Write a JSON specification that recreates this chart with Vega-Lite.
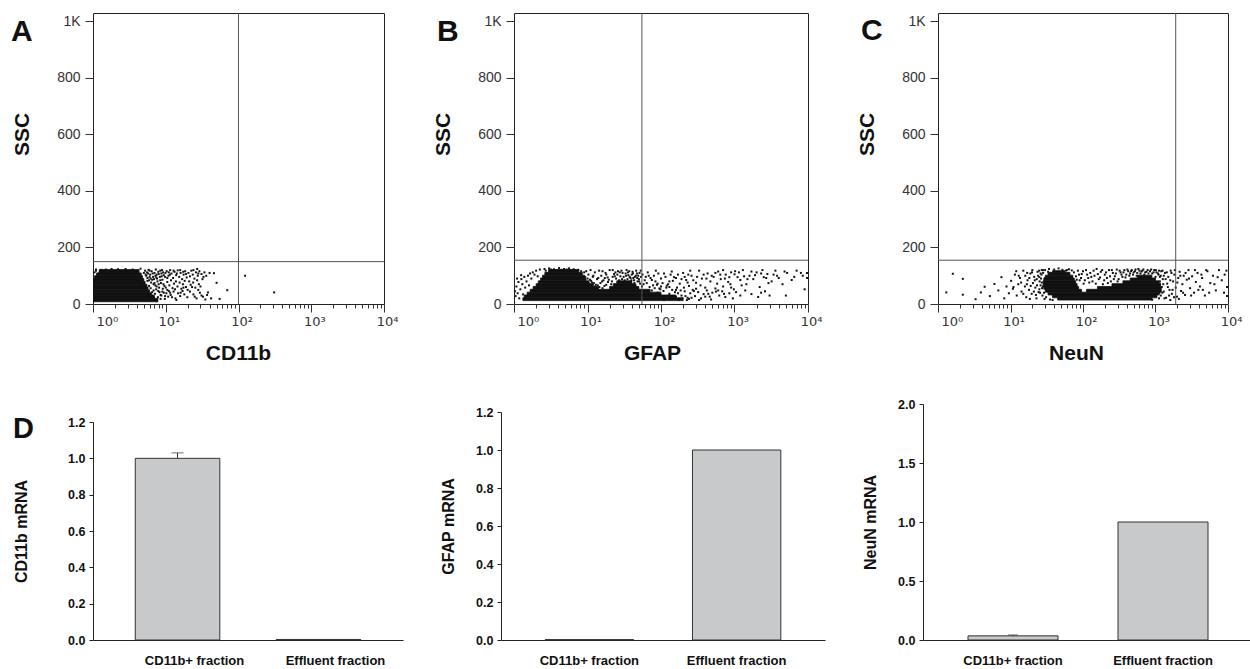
{
"$schema": "https://vega.github.io/schema/vega-lite/v6.json",
"padding": {"left": 10, "top": 12, "right": 0, "bottom": 0},
"config": {"font": "Liberation Sans", "axis": {"labelFont": "Liberation Sans", "titleFont": "Liberation Sans"}, "title": {"font": "Liberation Sans"}},
"datasets": {
"cd11b_dense": [{"x1":1,"x2":7.8,"y1":8,"y2":20},{"x1":1,"x2":7.0,"y1":20,"y2":30},{"x1":1,"x2":6.4,"y1":30,"y2":40},{"x1":1,"x2":6.0,"y1":40,"y2":50},{"x1":1,"x2":5.7,"y1":50,"y2":60},{"x1":1,"x2":5.5,"y1":60,"y2":70},{"x1":1,"x2":5.2,"y1":70,"y2":80},{"x1":1,"x2":5.0,"y1":80,"y2":90},{"x1":1.05,"x2":4.8,"y1":90,"y2":100},{"x1":1.12,"x2":4.6,"y1":100,"y2":110},{"x1":1.22,"x2":4.3,"y1":110,"y2":122}],
"cd11b_dots": [{"x":1.05,"y":112},{"x":1.1,"y":118},{"x":1.2,"y":108},{"x":1.15,"y":98},{"x":1.3,"y":121},{"x":1.4,"y":114},{"x":5.2,"y":118},{"x":5.5,"y":112},{"x":5.8,"y":121},{"x":6.1,"y":104},{"x":6.4,"y":116},{"x":6.7,"y":96},{"x":7.0,"y":110},{"x":7.3,"y":122},{"x":7.6,"y":90},{"x":8.0,"y":106},{"x":8.4,"y":118},{"x":8.8,"y":98},{"x":9.2,"y":112},{"x":5.9,"y":84},{"x":6.3,"y":76},{"x":6.9,"y":88},{"x":7.2,"y":66},{"x":7.7,"y":80},{"x":8.1,"y":58},{"x":8.6,"y":74},{"x":9.0,"y":86},{"x":9.6,"y":64},{"x":6.8,"y":48},{"x":7.1,"y":36},{"x":7.4,"y":52},{"x":7.8,"y":24},{"x":8.2,"y":42},{"x":8.7,"y":30},{"x":9.1,"y":54},{"x":9.7,"y":18},{"x":10.2,"y":38},{"x":10.8,"y":26},{"x":10.3,"y":116},{"x":10.9,"y":100},{"x":11.5,"y":120},{"x":12.0,"y":108},{"x":12.6,"y":92},{"x":13.2,"y":114},{"x":13.9,"y":102},{"x":14.6,"y":119},{"x":15.3,"y":96},{"x":16.0,"y":110},{"x":16.8,"y":88},{"x":17.6,"y":104},{"x":18.5,"y":116},{"x":19.4,"y":94},{"x":10.5,"y":78},{"x":11.2,"y":66},{"x":11.8,"y":84},{"x":12.4,"y":56},{"x":13.0,"y":72},{"x":13.8,"y":80},{"x":14.5,"y":62},{"x":15.5,"y":76},{"x":16.4,"y":54},{"x":17.2,"y":70},{"x":18.2,"y":82},{"x":19.0,"y":60},{"x":11.0,"y":46},{"x":11.7,"y":32},{"x":12.8,"y":44},{"x":13.6,"y":20},{"x":14.8,"y":38},{"x":15.8,"y":28},{"x":17.0,"y":46},{"x":18.0,"y":34},{"x":19.8,"y":24},{"x":20.5,"y":110},{"x":21.5,"y":98},{"x":22.5,"y":118},{"x":23.5,"y":104},{"x":24.8,"y":90},{"x":26,"y":112},{"x":27.5,"y":100},{"x":29,"y":116},{"x":31,"y":106},{"x":33,"y":96},{"x":21,"y":80},{"x":22,"y":68},{"x":23.8,"y":76},{"x":25.5,"y":58},{"x":27,"y":84},{"x":28.5,"y":70},{"x":30,"y":62},{"x":32,"y":88},{"x":21.5,"y":44},{"x":24,"y":34},{"x":26.5,"y":20},{"x":29.5,"y":40},{"x":32.5,"y":26},{"x":35,"y":16},{"x":37,"y":32},{"x":38,"y":41},{"x":46,"y":109},{"x":50,"y":75},{"x":70,"y":49},{"x":123,"y":100},{"x":309,"y":41},{"x":42,"y":20},{"x":55,"y":18},{"x":5.4,"y":100},{"x":5.6,"y":92},{"x":5.9,"y":64},{"x":6.2,"y":56},{"x":6.5,"y":42},{"x":6.6,"y":30},{"x":6.9,"y":20},{"x":7.3,"y":14},{"x":5.7,"y":108},{"x":6.0,"y":118},{"x":6.6,"y":108},{"x":7.5,"y":104},{"x":8.3,"y":96},{"x":7.9,"y":114},{"x":8.9,"y":120},{"x":9.4,"y":102},{"x":9.9,"y":110},{"x":7.0,"y":74},{"x":7.5,"y":62},{"x":8.0,"y":70},{"x":8.4,"y":84},{"x":9.3,"y":70},{"x":6.0,"y":96},{"x":6.5,"y":86},{"x":7.9,"y":46},{"x":8.5,"y":18},{"x":9.4,"y":40},{"x":10.0,"y":58},{"x":10.5,"y":92},{"x":11.0,"y":112},{"x":1.1,"y":122},{"x":1.25,"y":116},{"x":1.5,"y":122},{"x":1.8,"y":124},{"x":2.2,"y":123},{"x":2.8,"y":124},{"x":3.5,"y":122},{"x":4.5,"y":125},{"x":5.0,"y":110},{"x":5.3,"y":104},{"x":4.9,"y":60},{"x":5.3,"y":40},{"x":5.8,"y":30},{"x":6.2,"y":24},{"x":6.0,"y":12},{"x":7.5,"y":10},{"x":8.5,"y":32},{"x":9.0,"y":44},{"x":9.8,"y":28},{"x":10.5,"y":50},{"x":11.5,"y":40},{"x":12.2,"y":24},{"x":13.4,"y":52},{"x":14,"y":14},{"x":16,"y":40},{"x":17.5,"y":58},{"x":20,"y":50},{"x":23,"y":60},{"x":25,"y":26},{"x":28,"y":50},{"x":31,"y":30},{"x":5.6,"y":82},{"x":6.2,"y":90},{"x":6.8,"y":70},{"x":7.4,"y":94},{"x":7.2,"y":100},{"x":8.7,"y":108},{"x":9.8,"y":96},{"x":11.4,"y":104},{"x":12.8,"y":118},{"x":14.2,"y":108},{"x":15.8,"y":120},{"x":17.4,"y":114},{"x":19,"y":106},{"x":24,"y":120},{"x":28,"y":108},{"x":34,"y":112},{"x":36,"y":100},{"x":40,"y":110},{"x":27,"y":124}],
"cd11b_gate": [{"gate_x":100,"gate_y":150}],
"gfap_dense": [{"x1":1.32,"x2":200,"y1":12,"y2":22},{"x1":1.38,"x2":158,"y1":22,"y2":32},{"x1":1.51,"x2":100,"y1":32,"y2":42},{"x1":1.66,"x2":71,"y1":42,"y2":52},{"x1":1.82,"x2":14.1,"y1":52,"y2":62},{"x1":20,"x2":50,"y1":52,"y2":62},{"x1":2.0,"x2":12,"y1":62,"y2":72},{"x1":22.4,"x2":44.7,"y1":62,"y2":72},{"x1":2.14,"x2":10.5,"y1":72,"y2":82},{"x1":25,"x2":40,"y1":72,"y2":82},{"x1":2.3,"x2":9.5,"y1":82,"y2":92},{"x1":2.45,"x2":9.1,"y1":92,"y2":102},{"x1":2.63,"x2":8.5,"y1":102,"y2":112},{"x1":2.95,"x2":7.6,"y1":112,"y2":122}],
"gfap_dots": [{"x":1.03,"y":45},{"x":1.05,"y":28},{"x":1.08,"y":62},{"x":1.12,"y":38},{"x":1.15,"y":78},{"x":1.18,"y":20},{"x":1.22,"y":52},{"x":1.26,"y":88},{"x":1.3,"y":70},{"x":1.33,"y":34},{"x":1.38,"y":96},{"x":1.42,"y":58},{"x":1.48,"y":80},{"x":1.55,"y":100},{"x":1.6,"y":66},{"x":1.65,"y":108},{"x":1.72,"y":90},{"x":1.8,"y":112},{"x":1.9,"y":104},{"x":2.0,"y":118},{"x":2.1,"y":98},{"x":2.25,"y":122},{"x":1.25,"y":102},{"x":1.1,"y":90},{"x":2.6,"y":124},{"x":3.0,"y":126},{"x":3.5,"y":123},{"x":4.1,"y":127},{"x":4.8,"y":124},{"x":5.6,"y":126},{"x":6.5,"y":123},{"x":7.5,"y":121},{"x":9.6,"y":116},{"x":10.3,"y":104},{"x":11,"y":120},{"x":11.8,"y":96},{"x":12.6,"y":112},{"x":13.5,"y":88},{"x":14.4,"y":118},{"x":15.4,"y":100},{"x":16.5,"y":84},{"x":17.6,"y":110},{"x":18.8,"y":94},{"x":20,"y":120},{"x":21.5,"y":80},{"x":23,"y":106},{"x":24.5,"y":90},{"x":26,"y":116},{"x":28,"y":98},{"x":30,"y":110},{"x":32,"y":84},{"x":34,"y":120},{"x":36,"y":102},{"x":38.5,"y":92},{"x":41,"y":114},{"x":44,"y":96},{"x":47,"y":108},{"x":50,"y":88},{"x":53,"y":118},{"x":11.5,"y":76},{"x":13,"y":68},{"x":15,"y":74},{"x":17,"y":64},{"x":19,"y":78},{"x":45,"y":66},{"x":48,"y":80},{"x":52,"y":72},{"x":55,"y":62},{"x":10.8,"y":86},{"x":12,"y":100},{"x":14,"y":92},{"x":16,"y":116},{"x":18,"y":104},{"x":22,"y":96},{"x":24,"y":112},{"x":27,"y":84},{"x":29,"y":118},{"x":31,"y":96},{"x":33,"y":108},{"x":35,"y":88},{"x":37,"y":116},{"x":40,"y":104},{"x":43,"y":84},{"x":46,"y":118},{"x":49,"y":100},{"x":16,"y":56},{"x":18,"y":68},{"x":14.5,"y":60},{"x":12.5,"y":62},{"x":22,"y":120},{"x":42,"y":92},{"x":39,"y":78},{"x":51,"y":110},{"x":58,"y":70},{"x":62,"y":96},{"x":66,"y":112},{"x":70,"y":60},{"x":75,"y":85},{"x":80,"y":100},{"x":85,"y":118},{"x":90,"y":72},{"x":95,"y":55},{"x":100,"y":90},{"x":110,"y":108},{"x":120,"y":65},{"x":130,"y":80},{"x":140,"y":115},{"x":150,"y":95},{"x":165,"y":58},{"x":180,"y":72},{"x":200,"y":110},{"x":220,"y":85},{"x":240,"y":64},{"x":260,"y":100},{"x":280,"y":46},{"x":300,"y":75},{"x":330,"y":118},{"x":360,"y":90},{"x":400,"y":58},{"x":430,"y":108},{"x":470,"y":80},{"x":520,"y":96},{"x":560,"y":44},{"x":600,"y":115},{"x":650,"y":88},{"x":700,"y":62},{"x":760,"y":104},{"x":820,"y":78},{"x":900,"y":112},{"x":980,"y":52},{"x":1100,"y":95},{"x":1200,"y":85},{"x":1300,"y":120},{"x":1450,"y":70},{"x":1600,"y":100},{"x":1800,"y":88},{"x":2000,"y":112},{"x":2200,"y":60},{"x":2500,"y":95},{"x":2800,"y":106},{"x":3200,"y":80},{"x":3600,"y":118},{"x":4000,"y":92},{"x":4500,"y":70},{"x":5200,"y":110},{"x":6000,"y":85},{"x":7000,"y":118},{"x":8500,"y":100},{"x":9700,"y":92},{"x":9700,"y":110},{"x":1000,"y":105},{"x":1150,"y":112},{"x":1350,"y":98},{"x":1700,"y":115},{"x":1900,"y":102},{"x":2300,"y":108},{"x":2700,"y":92},{"x":3400,"y":104},{"x":1250,"y":66},{"x":850,"y":95},{"x":550,"y":110},{"x":700,"y":120},{"x":380,"y":104},{"x":250,"y":118},{"x":190,"y":30},{"x":210,"y":45},{"x":230,"y":22},{"x":250,"y":38},{"x":270,"y":50},{"x":290,"y":28},{"x":320,"y":42},{"x":350,"y":20},{"x":380,"y":35},{"x":420,"y":48},{"x":460,"y":26},{"x":500,"y":40},{"x":550,"y":55},{"x":620,"y":30},{"x":680,"y":45},{"x":750,"y":25},{"x":850,"y":38},{"x":950,"y":20},{"x":1050,"y":42},{"x":1200,"y":30},{"x":1400,"y":48},{"x":1700,"y":35},{"x":2100,"y":25},{"x":2600,"y":45},{"x":3000,"y":30},{"x":2300,"y":40},{"x":9000,"y":52},{"x":5000,"y":30},{"x":160,"y":50},{"x":175,"y":15},{"x":205,"y":58},{"x":240,"y":18},{"x":300,"y":54},{"x":330,"y":14},{"x":400,"y":26},{"x":440,"y":36},{"x":480,"y":16},{"x":600,"y":48},{"x":720,"y":36},{"x":900,"y":58},{"x":75,"y":48},{"x":82,"y":56},{"x":90,"y":40},{"x":98,"y":52},{"x":108,"y":46},{"x":118,"y":58},{"x":130,"y":36},{"x":142,"y":50},{"x":155,"y":42},{"x":170,"y":38},{"x":185,"y":48},{"x":195,"y":20},{"x":215,"y":28},{"x":225,"y":14},{"x":260,"y":22},{"x":130,"y":60},{"x":100,"y":62},{"x":88,"y":68},{"x":110,"y":14},{"x":160,"y":26},{"x":2.7,"y":118},{"x":3.2,"y":122},{"x":3.8,"y":120},{"x":4.4,"y":121},{"x":5.2,"y":122},{"x":6.0,"y":120},{"x":7.0,"y":118},{"x":8.2,"y":116},{"x":9.0,"y":112},{"x":9.3,"y":96},{"x":10,"y":90},{"x":10.6,"y":72},{"x":11.2,"y":82},{"x":12.2,"y":74},{"x":13.8,"y":66},{"x":15.8,"y":80},{"x":17.2,"y":92},{"x":19.5,"y":86},{"x":21,"y":70},{"x":23.5,"y":98},{"x":25.5,"y":104},{"x":27.5,"y":112},{"x":29.5,"y":88},{"x":31.5,"y":76},{"x":33.5,"y":100},{"x":35.5,"y":112},{"x":37.5,"y":96},{"x":39.5,"y":84},{"x":41.5,"y":108},{"x":43.5,"y":74},{"x":45.5,"y":100},{"x":47.5,"y":92},{"x":50.5,"y":80},{"x":53.5,"y":96},{"x":56,"y":104},{"x":60,"y":84},{"x":64,"y":74},{"x":68,"y":100},{"x":72,"y":92},{"x":78,"y":66},{"x":84,"y":80},{"x":92,"y":108},{"x":105,"y":74},{"x":115,"y":96},{"x":125,"y":70},{"x":135,"y":104},{"x":145,"y":82},{"x":160,"y":92},{"x":170,"y":104},{"x":190,"y":88},{"x":210,"y":96},{"x":230,"y":76},{"x":235,"y":104},{"x":275,"y":84},{"x":310,"y":96},{"x":345,"y":66},{"x":415,"y":90},{"x":490,"y":100},{"x":580,"y":72},{"x":640,"y":104},{"x":740,"y":90},{"x":880,"y":70},{"x":1020,"y":116},{"x":1500,"y":88},{"x":2400,"y":120},{"x":2900,"y":74},{"x":3800,"y":100},{"x":4800,"y":115},{"x":6500,"y":96},{"x":8000,"y":110}],
"gfap_gate": [{"gate_x":55,"gate_y":155}],
"neun_dense": [{"x1":44.7,"x2":891,"y1":14,"y2":22},{"x1":38,"x2":1047,"y1":22,"y2":32},{"x1":33,"x2":1122,"y1":32,"y2":42},{"x1":30.2,"x2":95.5,"y1":42,"y2":52},{"x1":112,"x2":1202,"y1":42,"y2":52},{"x1":28.8,"x2":87,"y1":52,"y2":62},{"x1":158,"x2":1202,"y1":52,"y2":62},{"x1":28.2,"x2":83,"y1":62,"y2":72},{"x1":251,"x2":1175,"y1":62,"y2":72},{"x1":28.2,"x2":79.4,"y1":72,"y2":82},{"x1":355,"x2":1122,"y1":72,"y2":82},{"x1":28.8,"x2":75.9,"y1":82,"y2":92},{"x1":447,"x2":1000,"y1":82,"y2":92},{"x1":30.2,"x2":72.4,"y1":92,"y2":102},{"x1":562,"x2":891,"y1":92,"y2":102},{"x1":33,"x2":66,"y1":102,"y2":112},{"x1":38,"x2":56,"y1":112,"y2":118}],
"neun_dots": [{"x":1.6,"y":107},{"x":2.2,"y":89},{"x":1.3,"y":41},{"x":2.2,"y":33},{"x":3.3,"y":17},{"x":3.9,"y":41},{"x":4.4,"y":61},{"x":6.0,"y":71},{"x":5.2,"y":28},{"x":6.8,"y":48},{"x":7.5,"y":95},{"x":8.2,"y":20},{"x":8.8,"y":62},{"x":9.5,"y":38},{"x":10.2,"y":82},{"x":10.8,"y":54},{"x":11.5,"y":104},{"x":12.2,"y":30},{"x":12.8,"y":70},{"x":13.5,"y":92},{"x":14.2,"y":44},{"x":15,"y":118},{"x":15.8,"y":62},{"x":16.5,"y":24},{"x":17.2,"y":84},{"x":18,"y":50},{"x":18.8,"y":108},{"x":19.6,"y":36},{"x":20.4,"y":74},{"x":21.2,"y":96},{"x":22,"y":58},{"x":22.8,"y":20},{"x":23.6,"y":114},{"x":24.4,"y":42},{"x":25.2,"y":80},{"x":26,"y":66},{"x":26.8,"y":104},{"x":27.6,"y":30},{"x":12,"y":116},{"x":14,"y":76},{"x":16,"y":100},{"x":18.5,"y":18},{"x":20,"y":120},{"x":23,"y":88},{"x":25,"y":52},{"x":27,"y":120},{"x":21,"y":44},{"x":19,"y":64},{"x":17,"y":110},{"x":24,"y":100},{"x":25,"y":95},{"x":26,"y":108},{"x":28,"y":62},{"x":27,"y":76},{"x":30,"y":120},{"x":34,"y":124},{"x":40,"y":122},{"x":46,"y":126},{"x":52,"y":121},{"x":58,"y":118},{"x":64,"y":123},{"x":70,"y":119},{"x":80,"y":98},{"x":85,"y":118},{"x":90,"y":84},{"x":96,"y":106},{"x":102,"y":72},{"x":110,"y":120},{"x":118,"y":92},{"x":126,"y":110},{"x":135,"y":80},{"x":144,"y":100},{"x":154,"y":124},{"x":165,"y":88},{"x":176,"y":114},{"x":188,"y":70},{"x":200,"y":104},{"x":214,"y":92},{"x":228,"y":120},{"x":242,"y":80},{"x":258,"y":110},{"x":275,"y":98},{"x":292,"y":122},{"x":310,"y":88},{"x":330,"y":112},{"x":350,"y":96},{"x":372,"y":120},{"x":395,"y":104},{"x":420,"y":116},{"x":445,"y":108},{"x":470,"y":120},{"x":500,"y":112},{"x":530,"y":122},{"x":560,"y":110},{"x":600,"y":118},{"x":640,"y":115},{"x":680,"y":122},{"x":720,"y":112},{"x":780,"y":120},{"x":840,"y":116},{"x":900,"y":108},{"x":960,"y":120},{"x":1030,"y":112},{"x":1100,"y":104},{"x":1150,"y":96},{"x":1180,"y":30},{"x":1220,"y":60},{"x":1260,"y":88},{"x":1300,"y":44},{"x":1350,"y":110},{"x":1400,"y":22},{"x":1450,"y":72},{"x":1500,"y":96},{"x":1560,"y":50},{"x":1620,"y":118},{"x":1680,"y":36},{"x":1750,"y":80},{"x":1820,"y":104},{"x":1900,"y":58},{"x":1980,"y":26},{"x":2060,"y":92},{"x":2150,"y":114},{"x":2250,"y":46},{"x":2350,"y":70},{"x":2450,"y":100},{"x":2550,"y":32},{"x":2700,"y":86},{"x":2850,"y":120},{"x":3000,"y":56},{"x":3200,"y":98},{"x":3400,"y":40},{"x":3600,"y":78},{"x":3800,"y":110},{"x":4100,"y":62},{"x":4400,"y":92},{"x":4800,"y":30},{"x":5200,"y":116},{"x":5700,"y":74},{"x":6200,"y":100},{"x":6800,"y":48},{"x":7500,"y":120},{"x":8200,"y":84},{"x":9000,"y":104},{"x":9700,"y":60},{"x":9700,"y":28},{"x":1250,"y":118},{"x":1600,"y":14},{"x":2100,"y":18},{"x":1150,"y":70},{"x":1300,"y":100},{"x":5000,"y":120},{"x":4500,"y":50},{"x":900,"y":15},{"x":1000,"y":30},{"x":1080,"y":50},{"x":1000,"y":96},{"x":11,"y":60},{"x":13,"y":100},{"x":15,"y":36},{"x":16.8,"y":70},{"x":18.2,"y":92},{"x":19.8,"y":112},{"x":21.6,"y":84},{"x":22.4,"y":32},{"x":23.2,"y":66},{"x":24.8,"y":118},{"x":25.6,"y":40},{"x":26.4,"y":90},{"x":27.2,"y":56},{"x":28.2,"y":110},{"x":29,"y":40},{"x":30,"y":92},{"x":31,"y":24},{"x":32,"y":70},{"x":33,"y":114},{"x":29.5,"y":18},{"x":35,"y":16},{"x":38,"y":14},{"x":28,"y":120},{"x":60,"y":120},{"x":75,"y":112},{"x":82,"y":86},{"x":88,"y":104},{"x":94,"y":92},{"x":100,"y":116},{"x":106,"y":84},{"x":114,"y":104},{"x":122,"y":76},{"x":130,"y":96},{"x":140,"y":118},{"x":150,"y":72},{"x":160,"y":106},{"x":172,"y":94},{"x":184,"y":120},{"x":196,"y":84},{"x":208,"y":112},{"x":220,"y":74},{"x":236,"y":98},{"x":250,"y":120},{"x":266,"y":88},{"x":284,"y":108},{"x":300,"y":80},{"x":320,"y":118},{"x":340,"y":104},{"x":362,"y":112},{"x":385,"y":94},{"x":410,"y":122},{"x":435,"y":100},{"x":460,"y":116},{"x":490,"y":104},{"x":520,"y":116},{"x":550,"y":100},{"x":580,"y":124},{"x":620,"y":108},{"x":660,"y":118},{"x":700,"y":104},{"x":750,"y":114},{"x":800,"y":108},{"x":870,"y":122},{"x":940,"y":112},{"x":1010,"y":120},{"x":1080,"y":108},{"x":1120,"y":118},{"x":1150,"y":80},{"x":1130,"y":40},{"x":1120,"y":20},{"x":1180,"y":100},{"x":1200,"y":116},{"x":1240,"y":40},{"x":1280,"y":70},{"x":1330,"y":20},{"x":1380,"y":88},{"x":1430,"y":112},{"x":1480,"y":60},{"x":1540,"y":30},{"x":1600,"y":84},{"x":1660,"y":110},{"x":1720,"y":50},{"x":1800,"y":24},{"x":1850,"y":120},{"x":2000,"y":76},{"x":2200,"y":100},{"x":2400,"y":40},{"x":2600,"y":110},{"x":2900,"y":90},{"x":3100,"y":30},{"x":3500,"y":120},{"x":3900,"y":50},{"x":4300,"y":104},{"x":5500,"y":40},{"x":6500,"y":70},{"x":7200,"y":95},{"x":8800,"y":40},{"x":9500,"y":118}],
"neun_gate": [{"gate_x":1900,"gate_y":155}],
"cd11b_bars": [{"fraction":"CD11b+ fraction","mrna":1.0},{"fraction":"Effluent fraction","mrna":0.003}],
"cd11b_err": [{"fraction":"CD11b+ fraction","mrna":1.0,"upper":1.03}],
"gfap_bars": [{"fraction":"CD11b+ fraction","mrna":0.002},{"fraction":"Effluent fraction","mrna":1.0}],
"neun_bars": [{"fraction":"CD11b+ fraction","mrna":0.035},{"fraction":"Effluent fraction","mrna":1.0}],
"neun_err": [{"fraction":"CD11b+ fraction","mrna":0.035,"upper":0.043}]
},
"spacing": 34,
"vconcat": [
{"hconcat": [
{"width": 291, "height": 291, "view": {"stroke": "#222", "strokeWidth": 1},
 "title": {"text": "A", "anchor": "start", "frame": "group", "orient": "top", "offset": 0, "baseline": "alphabetic", "dx": -82, "dy": 58, "fontSize": 30, "fontWeight": "bold", "color": "#111"},
 "layer": [
  {"data": {"name": "cd11b_dense"}, "mark": {"type": "rect", "color": "#111", "stroke": "#111", "strokeWidth": 0.8, "clip": true},
   "encoding": {
    "x": {"field": "x1", "type": "quantitative", "scale": {"type": "log", "domain": [1, 10000], "nice": false},
     "axis": {"title": "CD11b", "titleX": 145, "titleFontSize": 21, "titleFontWeight": "bold", "titleColor": "#111", "titlePadding": 14,
      "values": [1,2,3,4,5,6,7,8,9,10,20,30,40,50,60,70,80,90,100,200,300,400,500,600,700,800,900,1000,2000,3000,4000,5000,6000,7000,8000,9000,10000],
      "labelExpr": "abs(log(datum.value)/LN10 - round(log(datum.value)/LN10)) < 0.0001 ? '10' + ['⁰','¹','²','³','⁴'][round(log(datum.value)/LN10)] : ''",
      "labelFont": "DejaVu Sans", "labelFontSize": 13, "labelColor": "#333", "labelOverlap": false, "labelPadding": 3, "labelOffset": 3,
      "labelAlign": {"condition": {"test": "datum.value == 1", "value": "left"}, "value": "center"},
      "tickSize": {"condition": {"test": "abs(log(datum.value)/LN10 - round(log(datum.value)/LN10)) < 0.0001", "value": 8}, "value": 4},
      "tickColor": "#333", "domain": false, "grid": false}},
    "x2": {"field": "x2"},
    "y": {"field": "y1", "type": "quantitative", "scale": {"domain": [0, 1030], "nice": false, "zero": false},
     "axis": {"title": "SSC", "titleY": 121, "titleFontSize": 21, "titleFontWeight": "bold", "titleColor": "#111", "titlePadding": 24,
      "values": [0,50,100,150,200,250,300,350,400,450,500,550,600,650,700,750,800,850,900,950,1000],
      "labelExpr": "datum.value == 1000 ? '1K' : (datum.value % 200 == 0 ? datum.label : '')",
      "labelFontSize": 14, "labelColor": "#333", "labelOverlap": false, "labelPadding": 5,
      "tickSize": {"condition": {"test": "datum.value % 200 == 0", "value": 8}, "value": 4},
      "tickColor": "#333", "domain": false, "grid": false}},
    "y2": {"field": "y2"}}},
  {"data": {"name": "cd11b_dots"}, "mark": {"type": "point", "shape": "square", "filled": true, "size": 4, "color": "#111", "opacity": 1, "clip": true},
   "encoding": {"x": {"field": "x", "type": "quantitative", "scale": {"type": "log", "domain": [1, 10000], "nice": false}},
    "y": {"field": "y", "type": "quantitative", "scale": {"domain": [0, 1030], "nice": false, "zero": false}}}},
  {"data": {"name": "cd11b_gate"}, "mark": {"type": "rule", "color": "#555", "strokeWidth": 1},
   "encoding": {"x": {"field": "gate_x", "type": "quantitative", "scale": {"type": "log", "domain": [1, 10000], "nice": false}}}},
  {"data": {"name": "cd11b_gate"}, "mark": {"type": "rule", "color": "#555", "strokeWidth": 1},
   "encoding": {"y": {"field": "gate_y", "type": "quantitative", "scale": {"domain": [0, 1030], "nice": false, "zero": false}}}}
 ]},
{"width": 294, "height": 291, "view": {"stroke": "#222", "strokeWidth": 1},
 "title": {"text": "B", "anchor": "start", "frame": "group", "orient": "top", "offset": 0, "baseline": "alphabetic", "dx": -77, "dy": 58, "fontSize": 30, "fontWeight": "bold", "color": "#111"},
 "layer": [
  {"data": {"name": "gfap_dense"}, "mark": {"type": "rect", "color": "#111", "stroke": "#111", "strokeWidth": 0.8, "clip": true},
   "encoding": {
    "x": {"field": "x1", "type": "quantitative", "scale": {"type": "log", "domain": [1, 10000], "nice": false},
     "axis": {"title": "GFAP", "titleX": 138, "titleFontSize": 21, "titleFontWeight": "bold", "titleColor": "#111", "titlePadding": 14,
      "values": [1,2,3,4,5,6,7,8,9,10,20,30,40,50,60,70,80,90,100,200,300,400,500,600,700,800,900,1000,2000,3000,4000,5000,6000,7000,8000,9000,10000],
      "labelExpr": "abs(log(datum.value)/LN10 - round(log(datum.value)/LN10)) < 0.0001 ? '10' + ['⁰','¹','²','³','⁴'][round(log(datum.value)/LN10)] : ''",
      "labelFont": "DejaVu Sans", "labelFontSize": 13, "labelColor": "#333", "labelOverlap": false, "labelPadding": 3, "labelOffset": 3,
      "labelAlign": {"condition": {"test": "datum.value == 1", "value": "left"}, "value": "center"},
      "tickSize": {"condition": {"test": "abs(log(datum.value)/LN10 - round(log(datum.value)/LN10)) < 0.0001", "value": 8}, "value": 4},
      "tickColor": "#333", "domain": false, "grid": false}},
    "x2": {"field": "x2"},
    "y": {"field": "y1", "type": "quantitative", "scale": {"domain": [0, 1030], "nice": false, "zero": false},
     "axis": {"title": "SSC", "titleY": 121, "titleFontSize": 21, "titleFontWeight": "bold", "titleColor": "#111", "titlePadding": 24,
      "values": [0,50,100,150,200,250,300,350,400,450,500,550,600,650,700,750,800,850,900,950,1000],
      "labelExpr": "datum.value == 1000 ? '1K' : (datum.value % 200 == 0 ? datum.label : '')",
      "labelFontSize": 14, "labelColor": "#333", "labelOverlap": false, "labelPadding": 5,
      "tickSize": {"condition": {"test": "datum.value % 200 == 0", "value": 8}, "value": 4},
      "tickColor": "#333", "domain": false, "grid": false}},
    "y2": {"field": "y2"}}},
  {"data": {"name": "gfap_dots"}, "mark": {"type": "point", "shape": "square", "filled": true, "size": 4, "color": "#111", "opacity": 1, "clip": true},
   "encoding": {"x": {"field": "x", "type": "quantitative", "scale": {"type": "log", "domain": [1, 10000], "nice": false}},
    "y": {"field": "y", "type": "quantitative", "scale": {"domain": [0, 1030], "nice": false, "zero": false}}}},
  {"data": {"name": "gfap_gate"}, "mark": {"type": "rule", "color": "#555", "strokeWidth": 1},
   "encoding": {"x": {"field": "gate_x", "type": "quantitative", "scale": {"type": "log", "domain": [1, 10000], "nice": false}}}},
  {"data": {"name": "gfap_gate"}, "mark": {"type": "rule", "color": "#555", "strokeWidth": 1},
   "encoding": {"y": {"field": "gate_y", "type": "quantitative", "scale": {"domain": [0, 1030], "nice": false, "zero": false}}}}
 ]},
{"width": 290, "height": 291, "view": {"stroke": "#222", "strokeWidth": 1},
 "title": {"text": "C", "anchor": "start", "frame": "group", "orient": "top", "offset": 0, "baseline": "alphabetic", "dx": -77, "dy": 57, "fontSize": 30, "fontWeight": "bold", "color": "#111"},
 "layer": [
  {"data": {"name": "neun_dense"}, "mark": {"type": "rect", "color": "#111", "stroke": "#111", "strokeWidth": 0.8, "clip": true},
   "encoding": {
    "x": {"field": "x1", "type": "quantitative", "scale": {"type": "log", "domain": [1, 10000], "nice": false},
     "axis": {"title": "NeuN", "titleX": 138, "titleFontSize": 21, "titleFontWeight": "bold", "titleColor": "#111", "titlePadding": 14,
      "values": [1,2,3,4,5,6,7,8,9,10,20,30,40,50,60,70,80,90,100,200,300,400,500,600,700,800,900,1000,2000,3000,4000,5000,6000,7000,8000,9000,10000],
      "labelExpr": "abs(log(datum.value)/LN10 - round(log(datum.value)/LN10)) < 0.0001 ? '10' + ['⁰','¹','²','³','⁴'][round(log(datum.value)/LN10)] : ''",
      "labelFont": "DejaVu Sans", "labelFontSize": 13, "labelColor": "#333", "labelOverlap": false, "labelPadding": 3, "labelOffset": 3,
      "labelAlign": {"condition": {"test": "datum.value == 1", "value": "left"}, "value": "center"},
      "tickSize": {"condition": {"test": "abs(log(datum.value)/LN10 - round(log(datum.value)/LN10)) < 0.0001", "value": 8}, "value": 4},
      "tickColor": "#333", "domain": false, "grid": false}},
    "x2": {"field": "x2"},
    "y": {"field": "y1", "type": "quantitative", "scale": {"domain": [0, 1030], "nice": false, "zero": false},
     "axis": {"title": "SSC", "titleY": 121, "titleFontSize": 21, "titleFontWeight": "bold", "titleColor": "#111", "titlePadding": 24,
      "values": [0,50,100,150,200,250,300,350,400,450,500,550,600,650,700,750,800,850,900,950,1000],
      "labelExpr": "datum.value == 1000 ? '1K' : (datum.value % 200 == 0 ? datum.label : '')",
      "labelFontSize": 14, "labelColor": "#333", "labelOverlap": false, "labelPadding": 5,
      "tickSize": {"condition": {"test": "datum.value % 200 == 0", "value": 8}, "value": 4},
      "tickColor": "#333", "domain": false, "grid": false}},
    "y2": {"field": "y2"}}},
  {"data": {"name": "neun_dots"}, "mark": {"type": "point", "shape": "square", "filled": true, "size": 4, "color": "#111", "opacity": 1, "clip": true},
   "encoding": {"x": {"field": "x", "type": "quantitative", "scale": {"type": "log", "domain": [1, 10000], "nice": false}},
    "y": {"field": "y", "type": "quantitative", "scale": {"domain": [0, 1030], "nice": false, "zero": false}}}},
  {"data": {"name": "neun_gate"}, "mark": {"type": "rule", "color": "#555", "strokeWidth": 1},
   "encoding": {"x": {"field": "gate_x", "type": "quantitative", "scale": {"type": "log", "domain": [1, 10000], "nice": false}}}},
  {"data": {"name": "neun_gate"}, "mark": {"type": "rule", "color": "#555", "strokeWidth": 1},
   "encoding": {"y": {"field": "gate_y", "type": "quantitative", "scale": {"domain": [0, 1030], "nice": false, "zero": false}}}}
 ]}
], "spacing": 130, "bounds": "flush"},
{"hconcat": [
{"width": 310, "height": 236, "view": {"stroke": null},
 "title": {"text": "D", "anchor": "start", "frame": "group", "orient": "top", "offset": 0, "baseline": "alphabetic", "dx": -80, "dy": 63, "fontSize": 29, "fontWeight": "bold", "color": "#111"},
 "encoding": {
  "x": {"field": "fraction", "type": "nominal", "scale": {"paddingInner": 0.4, "paddingOuter": 0.3},
   "axis": {"title": null, "labelAngle": 0, "labelFontSize": 13, "labelFontWeight": "bold", "labelColor": "#111", "ticks": false, "tickSize": 0, "labelPadding": 14, "labelOffset": 17, "domainColor": "#222", "domainWidth": 1.2}},
  "y": {"field": "mrna", "type": "quantitative", "scale": {"domain": [0, 1.2], "range": [236, 18], "nice": false},
   "axis": {"title": "CD11b mRNA", "values": [0,0.2,0.4,0.6,0.8,1.0,1.2], "format": ".1f", "labelOverlap": false, "labelFontSize": 12.5, "labelFontWeight": "bold", "labelColor": "#111", "labelPadding": 4, "tickSize": 4, "tickColor": "#222", "domainColor": "#222", "grid": false, "titleFontSize": 16, "titleFontWeight": "bold", "titleColor": "#111", "titlePadding": 38}}},
 "layer": [
  {"data": {"name": "cd11b_bars"}, "mark": {"type": "bar", "fill": "#c8c9cb", "stroke": "#333", "strokeWidth": 1}},
  {"data": {"name": "cd11b_err"}, "mark": {"type": "rule", "color": "#333"}, "encoding": {"y2": {"field": "upper"}}},
  {"data": {"name": "cd11b_err"}, "mark": {"type": "tick", "color": "#333", "size": 12, "thickness": 1}, "encoding": {"y": {"field": "upper", "type": "quantitative", "title": "CD11b mRNA"}}}
 ]},
{"width": 324, "height": 236, "view": {"stroke": null},
 "layer": [
  {"data": {"name": "gfap_bars"}, "mark": {"type": "bar", "fill": "#c8c9cb", "stroke": "#333", "strokeWidth": 1},
   "encoding": {
    "x": {"field": "fraction", "type": "nominal", "scale": {"paddingInner": 0.4, "paddingOuter": 0.3},
     "axis": {"title": null, "labelAngle": 0, "labelFontSize": 13, "labelFontWeight": "bold", "labelColor": "#111", "ticks": false, "tickSize": 0, "labelPadding": 14, "domainColor": "#222", "domainWidth": 1.2}},
    "y": {"field": "mrna", "type": "quantitative", "scale": {"domain": [0, 1.2], "range": [236, 8], "nice": false},
     "axis": {"title": "GFAP mRNA", "values": [0,0.2,0.4,0.6,0.8,1.0,1.2], "format": ".1f", "labelOverlap": false, "labelFontSize": 12.5, "labelFontWeight": "bold", "labelColor": "#111", "labelPadding": 4, "tickSize": 4, "tickColor": "#222", "domainColor": "#222", "grid": false, "titleFontSize": 16, "titleFontWeight": "bold", "titleColor": "#111", "titlePadding": 19}}}}
 ]},
{"width": 330, "height": 236, "view": {"stroke": null},
 "encoding": {
  "x": {"field": "fraction", "type": "nominal", "scale": {"paddingInner": 0.4, "paddingOuter": 0.3},
   "axis": {"title": null, "labelAngle": 0, "labelFontSize": 13, "labelFontWeight": "bold", "labelColor": "#111", "ticks": false, "tickSize": 0, "labelPadding": 14, "domainColor": "#222", "domainWidth": 1.2}},
  "y": {"field": "mrna", "type": "quantitative", "scale": {"domain": [0, 2.0], "nice": false},
   "axis": {"title": "NeuN mRNA", "values": [0,0.5,1.0,1.5,2.0], "format": ".1f", "labelOverlap": false, "labelFontSize": 12.5, "labelFontWeight": "bold", "labelColor": "#111", "labelPadding": 4, "tickSize": 4, "tickColor": "#222", "domainColor": "#222", "grid": false, "titleFontSize": 16, "titleFontWeight": "bold", "titleColor": "#111", "titlePadding": 19}}},
 "layer": [
  {"data": {"name": "neun_bars"}, "mark": {"type": "bar", "fill": "#c8c9cb", "stroke": "#333", "strokeWidth": 1}},
  {"data": {"name": "neun_err"}, "mark": {"type": "rule", "color": "#333"}, "encoding": {"y2": {"field": "upper"}}},
  {"data": {"name": "neun_err"}, "mark": {"type": "tick", "color": "#333", "size": 10, "thickness": 1}, "encoding": {"y": {"field": "upper", "type": "quantitative", "title": "NeuN mRNA"}}}
 ]}
], "spacing": 98, "bounds": "flush"}
]
}
